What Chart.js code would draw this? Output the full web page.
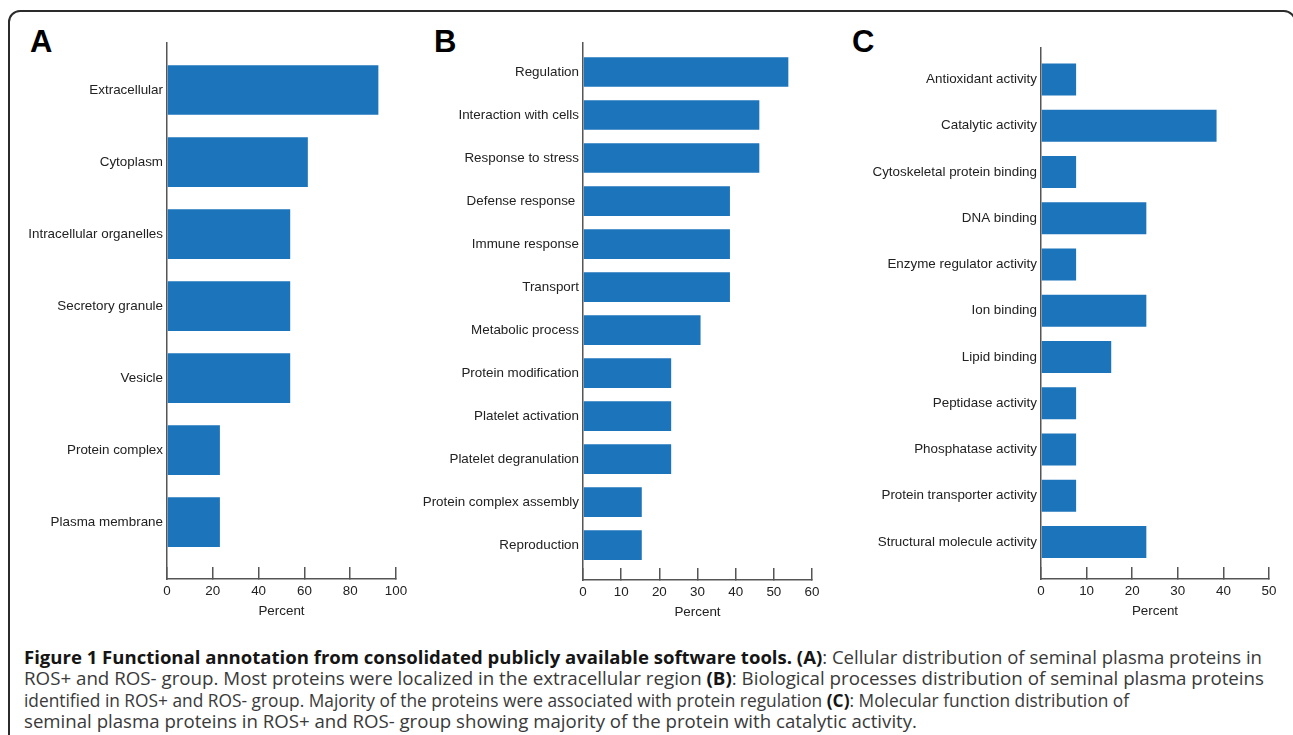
<!DOCTYPE html>
<html>
<head>
<meta charset="utf-8">
<script src="https://cdn.jsdelivr.net/npm/chart.js@4"></script>
<style>
  html, body { margin: 0; padding: 0; background: #fff; }
  body { width: 1293px; height: 735px; position: relative; overflow: hidden; }
  .frame { position: absolute; left: 8px; top: 10px; width: 1288px; height: 800px;
           border: 2px solid #2b2b2b; border-radius: 12px; box-sizing: border-box; }
  canvas { position: absolute; }
  .letter { position: absolute; top: 26px; font: bold 31px "Liberation Sans", Arial, sans-serif;
            line-height: 31px; color: #000; }
  .caption { position: absolute; left: 24px; top: 647px; font-family: "Open Sans", sans-serif;
             font-size: 18px; color: #3a3a3a; }
  .caption div { white-space: nowrap; height: 21.3px; line-height: 21.3px; }
  .caption span { display: inline-block; transform-origin: 0 50%; }
  .caption b { color: #151515; }
</style>
</head>
<body>
<div class="frame"></div>
<div class="letter" style="left:30px">A</div>
<div class="letter" style="left:434px">B</div>
<div class="letter" style="left:852px">C</div>

<canvas id="chartA" width="426" height="619" style="left:0;top:0"></canvas>
<canvas id="chartB" width="432" height="620" style="left:410px;top:0"></canvas>
<canvas id="chartC" width="459" height="619" style="left:840px;top:0"></canvas>

<div class="caption">
  <div><span data-w="1238"><b>Figure 1 Functional annotation from consolidated publicly available software tools. (A)</b>: Cellular distribution of seminal plasma proteins in</span></div>
  <div><span data-w="1240">ROS+ and ROS- group. Most proteins were localized in the extracellular region <b>(B)</b>: Biological processes distribution of seminal plasma proteins</span></div>
  <div><span data-w="1105">identified in ROS+ and ROS- group. Majority of the proteins were associated with protein regulation <b>(C)</b>: Molecular function distribution of</span></div>
  <div><span data-w="893">seminal plasma proteins in ROS+ and ROS- group showing majority of the protein with catalytic activity.</span></div>
</div>

<script>
// données des trois panneaux (pourcentages)
const cellLabels = ['Extracellular', 'Cytoplasm', 'Intracellular organelles', 'Secretory granule',
  'Vesicle', 'Protein complex', 'Plasma membrane'];
const cellValues = [92.3, 61.5, 53.8, 53.8, 53.8, 23.1, 23.1];

const bioLabels = ['Regulation', 'Interaction with cells', 'Response to stress', 'Defense response ',
  'Immune response', 'Transport', 'Metabolic process', 'Protein modification', 'Platelet activation',
  'Platelet degranulation', 'Protein complex assembly', 'Reproduction'];
const bioValues = [53.8, 46.2, 46.2, 38.5, 38.5, 38.5, 30.8, 23.1, 23.1, 23.1, 15.4, 15.4];

const molLabels = ['Antioxidant activity', 'Catalytic activity', 'Cytoskeletal protein binding',
  'DNA binding', 'Enzyme regulator activity', 'Ion binding', 'Lipid binding', 'Peptidase activity',
  'Phosphatase activity', 'Protein transporter activity', 'Structural molecule activity'];
const molValues = [7.7, 38.5, 7.7, 23.1, 7.7, 23.1, 15.4, 7.7, 7.7, 7.7, 23.1];

const xTicksA = [0, 20, 40, 60, 80, 100];
const xTicksB = [0, 10, 20, 30, 40, 50, 60];
const xTicksC = [0, 10, 20, 30, 40, 50];

Chart.defaults.font.family = '"Liberation Sans", Arial, sans-serif';
Chart.defaults.font.size = 13.4;
Chart.defaults.color = '#222';

const axisColor = '#555';
const barColor = '#1c74bb';

function makePanel(id, labels, values, xTicks, opt) {
  const ctx = document.getElementById(id).getContext('2d');
  return new Chart(ctx, {
    type: 'bar',
    data: {
      datasets: [{
        data: values.map((v, i) => ({ x: v, y: i })),
        backgroundColor: barColor,
        borderWidth: 0,
        categoryPercentage: 1,
        barPercentage: 0.69
      }]
    },
    options: {
      indexAxis: 'y',
      animation: false,
      responsive: false,
      events: [],
      layout: { padding: { left: 0, right: 30, top: opt.top, bottom: 0 } },
      plugins: { legend: { display: false }, tooltip: { enabled: false } },
      scales: {
        x: {
          type: 'linear',
          min: xTicks[0],
          max: xTicks[xTicks.length - 1],
          afterBuildTicks: s => { s.ticks = xTicks.map(v => ({ value: v })); },
          afterFit: s => { s.height = 40; },
          border: { color: axisColor, width: 1.5 },
          grid: { drawOnChartArea: false, color: axisColor, lineWidth: 1.5, tickLength: -12 },
          ticks: { padding: 16, color: '#222', maxRotation: 0 },
          title: { display: true, text: 'Percent', color: '#222', padding: 0 }
        },
        y: {
          type: 'linear',
          reverse: true,
          offset: false,
          min: opt.yMin,
          max: opt.yMax,
          afterBuildTicks: s => { s.ticks = labels.map((_, i) => ({ value: i })); },
          afterFit: s => { s.width = opt.yWidth; },
          border: { color: axisColor, width: 1.5 },
          grid: { display: false, drawTicks: false, tickLength: 0 },
          ticks: { padding: 4, autoSkip: false, color: '#222', callback: v => labels[v] }
        }
      }
    }
  });
}

makePanel('chartA', cellLabels, cellValues, xTicksA, { top: 43, yWidth: 167, yMin: -0.653, yMax: 6.79 });
makePanel('chartB', bioLabels, bioValues, xTicksB, { top: 43, yWidth: 173, yMin: -0.674, yMax: 11.81 });
makePanel('chartC', molLabels, molValues, xTicksC, { top: 48, yWidth: 201, yMin: -0.68, yMax: 10.8 });

// ajustar a largura de cada linha da legenda
document.querySelectorAll('.caption span').forEach(el => {
  const w = el.getBoundingClientRect().width;
  el.style.transform = 'scaleX(' + (+el.dataset.w / w).toFixed(4) + ')';
});
</script>
</body>
</html>
